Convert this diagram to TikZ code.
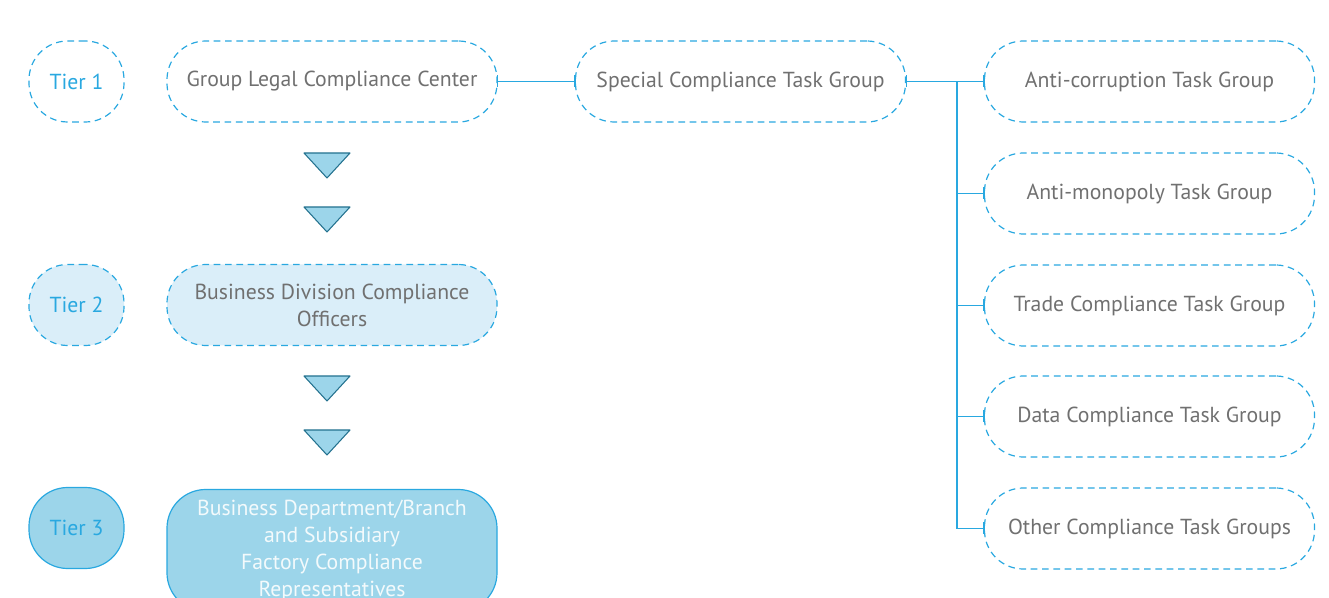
\documentclass[tikz,border=0pt]{standalone}
\usepackage{fontspec}
\setmainfont{PT Sans}
\usetikzlibrary{arrows.meta}
\definecolor{tierblue}{HTML}{29A8E0}
\definecolor{palefill}{HTML}{DAEEF9}
\definecolor{midfill}{HTML}{9CD5EA}
\definecolor{darkedge}{HTML}{24728F}
\definecolor{labelgray}{HTML}{707070}
\tikzset{
  dashbox/.style={draw=tierblue,dash pattern=on 5pt off 3.5pt,line width=0.9pt,rounded corners=29pt,
    minimum height=60.75pt,text=labelgray,font=\fontsize{16.3}{20.25}\selectfont,inner sep=0pt},
  tierbox/.style={dashbox,minimum width=71.25pt,text=tierblue},
  groupbox/.style={dashbox,minimum width=247.5pt,align=center},
  link/.style={draw=tierblue,line width=0.9pt},
  tri/.style={fill=midfill,draw=darkedge,line width=0.8pt,line join=round}
}
\begin{document}
\begin{tikzpicture}[x=0.75pt,y=-0.75pt]
\useasboundingbox (0,0) rectangle (1329,598);
\clip (0,0) rectangle (1329,598);
% tiers
\node[tierbox] (tier1) at (76.5,81.5) {Tier 1};
\node[tierbox,fill=palefill] (tier2) at (76.5,305) {Tier 2};
\node[tierbox,fill=midfill,solid] (tier3) at (76.5,528) {Tier 3};
\node[groupbox] (legal) at (332,81.5) {Group Legal Compliance Center};
\node[groupbox,fill=palefill] (officers) at (332,305) {Business Division Compliance\\Officers};
\node[groupbox,fill=midfill,solid,text=white!88!midfill,minimum height=91.5pt] (reps) at (332,550.5)
  {Business Department/Branch\\and Subsidiary\\Factory Compliance\\Representatives};
\foreach \y in {153,207,376,430}{\draw[tri] (304,\y)--(350,\y)--(327,\y+25)--cycle;}
% task groups
\node[groupbox] (special) at (740.5,81.5) {Special Compliance Task Group};
\foreach \y/\n/\t in {81.5/anticorr/Anti-corruption Task Group,193.5/antimono/Anti-monopoly Task Group,
  305.5/trade/Trade Compliance Task Group,416.5/data/Data Compliance Task Group,
  528.5/other/Other Compliance Task Groups}{\node[groupbox] (\n) at (1149.5,\y) {\t};}
\draw[link] (legal) -- (special);
\draw[link] (special) -- (anticorr);
\coordinate (bus) at (957,81.5);
\foreach \n in {antimono,trade,data,other}{\draw[link] (bus) |- (\n.west);}
% end bars
\foreach \a in {legal.east,special.west,special.east,anticorr.west,antimono.west,trade.west,data.west,other.west}
  {\draw[link] ([yshift=4.5pt]\a) -- ([yshift=-4.5pt]\a);}
\end{tikzpicture}
\end{document}
